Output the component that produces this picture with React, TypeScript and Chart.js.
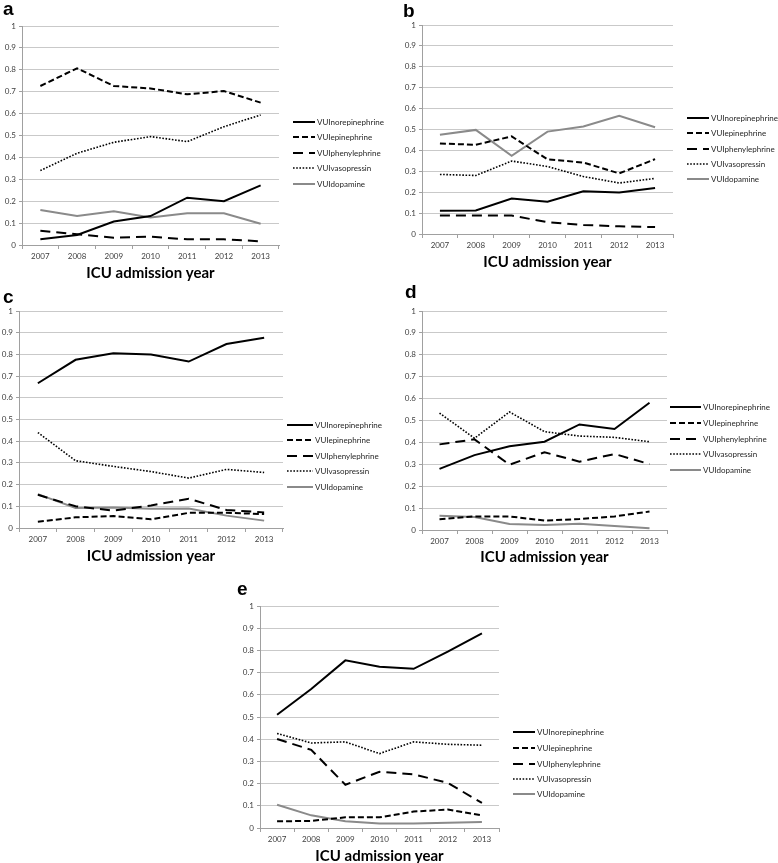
import React, { useEffect, useRef } from 'react';
import { Chart, registerables } from 'chart.js';

Chart.register(...registerables);

// ---------- data ----------
const years = ['2007', '2008', '2009', '2010', '2011', '2012', '2013'];
const yTickLabels = ['0', '0.1', '0.2', '0.3', '0.4', '0.5', '0.6', '0.7', '0.8', '0.9', '1'];
const seriesNames = ['VUInorepinephrine', 'VUIepinephrine', 'VUIphenylephrine', 'VUIvasopressin', 'VUIdopamine'];
const xAxisTitle = 'ICU admission year';
const panelLetters = ['a', 'b', 'c', 'd', 'e'];

// panel a
const aNorepinephrine = [0.026, 0.046, 0.107, 0.132, 0.216, 0.2, 0.272];
const aEpinephrine = [0.726, 0.807, 0.726, 0.715, 0.688, 0.703, 0.65];
const aPhenylephrine = [0.065, 0.049, 0.033, 0.038, 0.026, 0.026, 0.017];
const aVasopressin = [0.34, 0.419, 0.469, 0.495, 0.472, 0.54, 0.594];
const aDopamine = [0.16, 0.132, 0.154, 0.126, 0.145, 0.145, 0.097];

// panel b
const bNorepinephrine = [0.111, 0.113, 0.17, 0.154, 0.204, 0.199, 0.22];
const bEpinephrine = [0.433, 0.427, 0.467, 0.357, 0.342, 0.29, 0.358];
const bPhenylephrine = [0.088, 0.088, 0.088, 0.057, 0.043, 0.037, 0.033];
const bVasopressin = [0.285, 0.28, 0.349, 0.323, 0.275, 0.244, 0.266];
const bDopamine = [0.475, 0.498, 0.374, 0.49, 0.514, 0.565, 0.511];

// panel c
const cNorepinephrine = [0.667, 0.775, 0.805, 0.799, 0.767, 0.848, 0.877];
const cEpinephrine = [0.029, 0.049, 0.055, 0.04, 0.07, 0.07, 0.064];
const cPhenylephrine = [0.153, 0.1, 0.08, 0.104, 0.135, 0.083, 0.072];
const cVasopressin = [0.44, 0.31, 0.284, 0.26, 0.23, 0.27, 0.256];
const cDopamine = [0.156, 0.092, 0.095, 0.089, 0.09, 0.057, 0.034];

// panel d
const dNorepinephrine = [0.279, 0.342, 0.382, 0.403, 0.482, 0.461, 0.581];
const dEpinephrine = [0.049, 0.062, 0.062, 0.043, 0.05, 0.062, 0.084];
const dPhenylephrine = [0.391, 0.414, 0.298, 0.355, 0.312, 0.347, 0.301];
const dVasopressin = [0.534, 0.419, 0.539, 0.449, 0.429, 0.423, 0.403];
const dDopamine = [0.065, 0.059, 0.027, 0.023, 0.029, 0.018, 0.008];

// panel e
const eNorepinephrine = [0.51, 0.626, 0.755, 0.726, 0.717, 0.794, 0.877];
const eEpinephrine = [0.03, 0.032, 0.048, 0.048, 0.074, 0.083, 0.057];
const ePhenylephrine = [0.401, 0.352, 0.195, 0.253, 0.242, 0.203, 0.113];
const eVasopressin = [0.426, 0.383, 0.388, 0.335, 0.388, 0.377, 0.373];
const eDopamine = [0.105, 0.057, 0.03, 0.02, 0.02, 0.024, 0.027];

const panelSeries = [
  [aNorepinephrine, aEpinephrine, aPhenylephrine, aVasopressin, aDopamine],
  [bNorepinephrine, bEpinephrine, bPhenylephrine, bVasopressin, bDopamine],
  [cNorepinephrine, cEpinephrine, cPhenylephrine, cVasopressin, cDopamine],
  [dNorepinephrine, dEpinephrine, dPhenylephrine, dVasopressin, dDopamine],
  [eNorepinephrine, eEpinephrine, ePhenylephrine, eVasopressin, eDopamine],
];

// ---------- styles / layout ----------
const FONT = 'Lato, "Open Sans", "DejaVu Sans", sans-serif';
const GRID = '#c9c9c9';
const AXIS = '#a0a0a0';
const TICK_COLOR = '#404040';

const seriesStyles = [
  { color: '#000000', width: 2, dash: [] as number[] },
  { color: '#000000', width: 2, dash: [6, 3] },
  { color: '#000000', width: 2, dash: [10, 6] },
  { color: '#000000', width: 1.6, dash: [1.6, 1.6] },
  { color: '#8a8a8a', width: 2, dash: [] as number[] },
];

type Layout = {
  canvas: { left: number; top: number; w: number; h: number };
  area: { L: number; T: number; R: number; B: number };
  titleY: number;
  legend: { x0: number; x1: number; tx: number; ys: number[] };
  letter: { x: number; baseline: number };
};

const layouts: Layout[] = [
  {
    canvas: { left: 0, top: 18, w: 390, h: 270 },
    area: { L: 22, T: 26, R: 279, B: 245 },
    titleY: 273,
    legend: { x0: 293, x1: 315, tx: 317, ys: [122, 137, 153, 168, 184] },
    letter: { x: 3, baseline: 15 },
  },
  {
    canvas: { left: 390, top: 17, w: 388, h: 258 },
    area: { L: 422, T: 25, R: 673, B: 234 },
    titleY: 262,
    legend: { x0: 687, x1: 709, tx: 711, ys: [118, 133, 149, 164, 179] },
    letter: { x: 403, baseline: 17 },
  },
  {
    canvas: { left: 0, top: 303, w: 390, h: 268 },
    area: { L: 19, T: 311, R: 283, B: 528 },
    titleY: 556,
    legend: { x0: 287, x1: 313, tx: 315, ys: [425, 440, 456, 471, 487] },
    letter: { x: 3, baseline: 303 },
  },
  {
    canvas: { left: 390, top: 303, w: 388, h: 268 },
    area: { L: 422, T: 311, R: 667, B: 530 },
    titleY: 557,
    legend: { x0: 670, x1: 701, tx: 703, ys: [407, 423, 439, 454, 470] },
    letter: { x: 405, baseline: 298 },
  },
  {
    canvas: { left: 190, top: 598, w: 420, h: 265 },
    area: { L: 260, T: 606, R: 499, B: 828 },
    titleY: 856,
    legend: { x0: 513, x1: 535, tx: 537, ys: [732, 748, 764, 779, 794] },
    letter: { x: 237, baseline: 595 },
  },
];

function makeLegendPlugin(lay: Layout) {
  return {
    id: 'vuiLegend',
    afterDraw(chart: any) {
      const ctx = chart.ctx as CanvasRenderingContext2D;
      const ox = lay.canvas.left;
      const oy = lay.canvas.top;
      chart.data.datasets.forEach((ds: any, i: number) => {
        const y = lay.legend.ys[i] - oy;
        ctx.save();
        ctx.strokeStyle = ds.borderColor;
        ctx.lineWidth = ds.borderWidth;
        ctx.setLineDash(ds.borderDash || []);
        ctx.beginPath();
        ctx.moveTo(lay.legend.x0 - ox, y);
        ctx.lineTo(lay.legend.x1 - ox, y);
        ctx.stroke();
        ctx.setLineDash([]);
        ctx.fillStyle = '#262626';
        ctx.font = `8px ${FONT}`;
        ctx.textBaseline = 'middle';
        ctx.textAlign = 'left';
        ctx.fillText(ds.label, lay.legend.tx - ox, y);
        ctx.restore();
      });
    },
  };
}

function Panel({ index }: { index: number }) {
  const ref = useRef<HTMLCanvasElement | null>(null);
  const lay = layouts[index];
  useEffect(() => {
    if (!ref.current) return;
    const series = panelSeries[index];
    const c = lay.canvas;
    const a = lay.area;
    const titleLH = 15;
    const titlePadBottom = c.top + c.h - lay.titleY - titleLH / 2;
    const chart = new Chart(ref.current, {
      type: 'line',
      data: {
        labels: years,
        datasets: series.map((vals, i) => ({
          label: seriesNames[i],
          data: vals,
          borderColor: seriesStyles[i].color,
          borderWidth: seriesStyles[i].width,
          borderDash: seriesStyles[i].dash,
          pointRadius: 0,
          fill: false,
          tension: 0,
        })),
      },
      options: {
        responsive: false,
        maintainAspectRatio: false,
        animation: false,
        events: [],
        layout: {
          padding: { left: 0, top: a.T - c.top, right: c.left + c.w - a.R, bottom: 0 },
        },
        plugins: { legend: { display: false }, tooltip: { enabled: false }, title: { display: false } },
        scales: {
          x: {
            type: 'category',
            offset: true,
            grid: { display: true, drawOnChartArea: false, drawTicks: true, tickLength: 4, color: AXIS, offset: true },
            border: { display: true, color: AXIS, width: 1 },
            ticks: { font: { family: FONT, size: 8 }, color: TICK_COLOR, padding: 3, maxRotation: 0, autoSkip: false },
            title: {
              display: true,
              text: xAxisTitle,
              color: '#000000',
              font: { family: FONT, size: 15, weight: 'bold', lineHeight: 1 },
              padding: { top: 0, bottom: titlePadBottom },
            },
            afterFit: (s: any) => {
              s.height = c.top + c.h - a.B;
            },
          },
          y: {
            min: 0,
            max: 1,
            ticks: {
              stepSize: 0.1,
              font: { family: FONT, size: 8 },
              color: TICK_COLOR,
              padding: 3,
              callback: (_v: any, i: number) => yTickLabels[i],
            },
            grid: { color: GRID, lineWidth: 1, drawTicks: true, tickLength: 3, tickColor: AXIS },
            border: { display: true, color: AXIS, width: 1 },
            afterFit: (s: any) => {
              s.width = a.L - c.left;
            },
          },
        },
      } as any,
      plugins: [makeLegendPlugin(lay)],
    });
    return () => chart.destroy();
  }, [index]);
  const c = lay.canvas;
  return (
    <>
      <canvas
        ref={ref}
        width={c.w}
        height={c.h}
        style={{ position: 'absolute', left: c.left, top: c.top, width: c.w, height: c.h }}
      />
      <div
        style={{
          position: 'absolute',
          left: lay.letter.x,
          top: lay.letter.baseline - 16,
          fontFamily: '"Liberation Sans", Arial, sans-serif',
          fontWeight: 'bold',
          fontSize: 19,
          lineHeight: '19px',
          color: '#000',
        }}
      >
        {panelLetters[index]}
      </div>
    </>
  );
}

export default function App() {
  return (
    <div
      style={{
        position: 'absolute',
        left: 0,
        top: 0,
        width: 778,
        height: 863,
        overflow: 'hidden',
        background: '#ffffff',
      }}
    >
      {layouts.map((_, i) => (
        <Panel key={i} index={i} />
      ))}
    </div>
  );
}
